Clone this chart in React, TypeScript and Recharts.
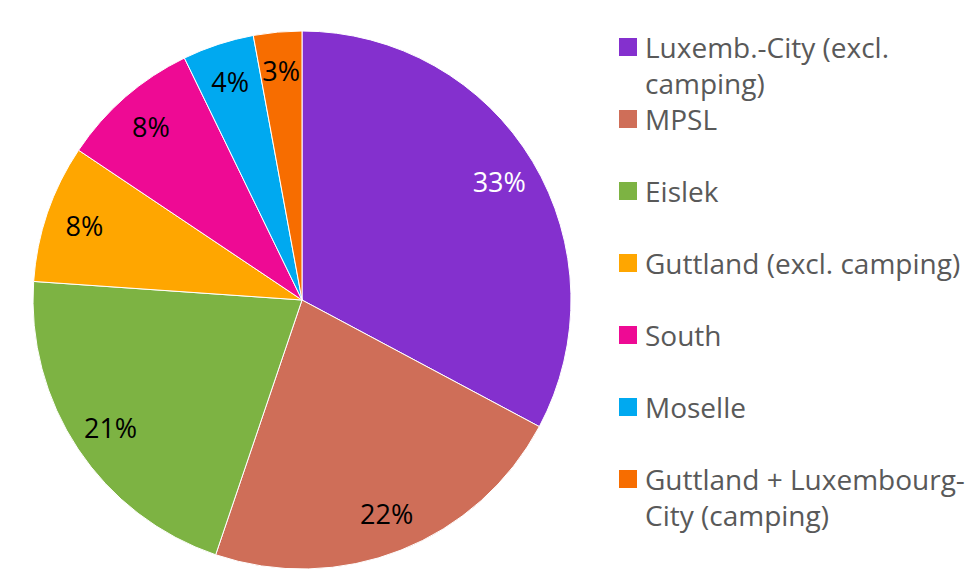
import React from 'react';
import { PieChart, Pie, Cell, Legend, Customized } from 'recharts';

const regions = [
  'Luxemb.-City (excl. camping)',
  'MPSL',
  'Eislek',
  'Guttland (excl. camping)',
  'South',
  'Moselle',
  'Guttland + Luxembourg-City (camping)',
];
const shares = [32.8, 22.4, 20.9, 8.3, 8.4, 4.3, 2.9];
const colors = ['#8430CE', '#CF6E58', '#7DB343', '#FFA600', '#EE0A94', '#00A9F0', '#F76D00'];
const labelColors = ['#ffffff', '#000000', '#000000', '#000000', '#000000', '#000000', '#000000'];

const data = regions.map((name, i) => ({ name, value: shares[i] }));

const RAD = Math.PI / 180;

const renderLabel = (props: any) => {
  const { cx, cy, midAngle, outerRadius, percent, index } = props;
  const r = outerRadius * 0.855;
  const x = cx + r * Math.cos(-midAngle * RAD);
  const y = cy + r * Math.sin(-midAngle * RAD);
  return (
    <text
      x={x}
      y={y}
      fill={labelColors[index]}
      textAnchor="middle"
      dominantBaseline="central"
      fontFamily="Open Sans"
      fontSize={27}
    >
      {`${Math.round(percent * 100)}%`}
    </text>
  );
};

const Frame = () => (
  <g>
    <rect x={0} y={0} width={976} height={3} fill="#e6e6e6" />
    <rect x={0} y={0} width={7} height={583} fill="#e6e6e6" />
  </g>
);

const renderLegend = () => {
  return (
    <div style={{ position: 'relative', width: 360, height: 560 }}>
      {regions.map((name, i) => (
        <div
          key={name}
          style={{
            position: 'absolute',
            left: 0,
            top: 29 + i * 72,
            display: 'flex',
            alignItems: 'flex-start',
          }}
        >
          <div
            style={{
              width: 18,
              height: 18,
              background: colors[i],
              marginTop: 9,
              marginRight: 8,
              flexShrink: 0,
            }}
          />
          <div
            style={{
              width: 330,
              fontFamily: 'Open Sans',
              fontSize: 28,
              lineHeight: '36px',
              color: '#595959',
            }}
          >
            {name}
          </div>
        </div>
      ))}
    </div>
  );
};

export default function App() {
  return (
    <div
      style={{
        margin: -8,
        width: 976,
        height: 583,
        position: 'relative',
        background: '#ffffff',
        overflow: 'hidden',
      }}
    >
      <div style={{ position: 'absolute', left: 0, top: 0 }}>
        <PieChart width={976} height={583} margin={{ top: 0, right: 0, bottom: 0, left: 0 }}>
          <Customized component={Frame} />
          <Pie
            data={data}
            dataKey="value"
            nameKey="name"
            cx={302}
            cy={300}
            outerRadius={269}
            startAngle={90}
            endAngle={-270}
            stroke="#ffffff"
            strokeWidth={1}
            label={renderLabel}
            labelLine={false}
            isAnimationActive={false}
          >
            {data.map((d, i) => (
              <Cell key={d.name} fill={colors[i]} />
            ))}
          </Pie>
          <Legend
            content={renderLegend}
            layout="vertical"
            wrapperStyle={{ position: 'absolute', left: 619, top: 0, width: 360, height: 560 }}
          />
        </PieChart>
      </div>
    </div>
  );
}
